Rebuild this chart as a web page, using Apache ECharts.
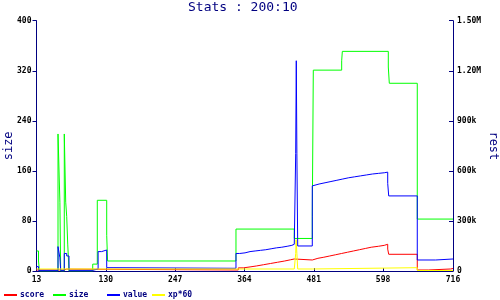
<!DOCTYPE html>
<html><head><meta charset="utf-8">
<script src="https://cdn.jsdelivr.net/npm/echarts@6/dist/echarts.min.js"></script>
<style>html,body{margin:0;padding:0;background:#fff}#c{width:500px;height:300px}</style>
</head><body><div id="c"></div>
<script>
const titleText = 'Stats : 200:10';
const seriesNames = ['score', 'size', 'value', 'xp*60'];
const xTicks = [13, 130, 247, 364, 481, 598, 716];
const leftTicks = [0, 80, 160, 240, 320, 400];
const rightTickLabels = ['0', '300k', '600k', '900k', '1.20M', '1.50M'];

const score = [[13,1.6],[49.3,3],[52.5,1.6],[59.9,3],[64,1.6],[353.6,5],[362,6.5],[373.4,8],[384,10],[396,12],[408,14],[420,16],[432,18],[442,19.2],[448.1,17.6],[478.5,20.3],[488,22],[498,24],[508,26],[518,28],[528,30],[538,32],[548,34],[558,36],[568,38],[578,39.5],[590,41],[600,42.7],[605.8,35],[607.5,26.7],[655.7,1.6],[674.3,3.2],[712,4],[716,4]];
const size = [[13,32],[16.4,16],[18,0],[49.3,219],[52.5,110],[53.8,0],[59.9,219],[62.3,110],[64,87],[65.7,43],[67.9,0],[107.9,11],[115.6,113],[131.5,57],[133,16],[349.7,67],[448.1,52],[478.5,87],[480.2,321],[528.1,336],[529.2,351],[606.8,326],[608.5,300],[655.7,83],[716,83]];
const value = [[13,7],[16.4,1],[49.3,39],[52.5,21],[53.8,1],[59.9,28],[64,24],[67.9,1],[107.9,3.2],[117,31],[123,33.6],[131.5,5.3],[143.8,4.3],[349.7,28],[356,29],[365,31],[373.4,32],[382,33],[391,34],[400,35.5],[409,37],[418,38],[427,39.5],[436,41],[444,42.7],[448.1,40],[450.5,188],[451.5,336],[452.5,188],[453.9,40],[478.5,136],[481,139],[490,141],[500,143],[510,145],[520,147],[530,149],[540,150.5],[550,152],[560,153.5],[570,155],[580,156],[590,157],[600,158],[605.8,140],[607.5,120],[655.7,17.6],[686.7,19.2],[716,19.2]];
const xp60 = [[13,3.2],[448.1,3.2],[450.5,28],[451.2,50],[452.5,28],[453.9,3.2],[478.5,5.3],[655.7,0.8],[716,0.8]];

const seriesData = [score, size, value, xp60];
const colors = ['#ff0000', '#00ff00', '#0000ff', '#ffff00'];
const legendLeft = [4, 53, 107, 152];

const navy = '#000080';
const mono = 'DejaVu Sans Mono';
const chart = echarts.init(document.getElementById('c'), null, {renderer: 'canvas'});
chart.setOption({
  animation: false,
  backgroundColor: '#ffffff',
  title: {text: titleText, left: 188, top: 1, padding: 0, textStyle: {color: navy, fontFamily: mono, fontSize: 13, fontWeight: 'normal'}},
  legend: seriesNames.map((n, i) => ({
    data: [n], left: legendLeft[i], top: 291, padding: 0,
    icon: 'rect', itemWidth: 13, itemHeight: 2, itemGap: 0,
    textStyle: {color: navy, fontFamily: mono, fontSize: 8, fontWeight: 'bold', padding: [0, 0, 0, -2]}
  })),
  grid: {left: 36.5, right: 47, top: 20.7, bottom: 29, containLabel: false, outerBoundsMode: 'none'},
  xAxis: {
    type: 'value', min: 13, max: 716,
    axisLine: {lineStyle: {color: navy, width: 1}},
    axisTick: {inside: true, length: 3, customValues: xTicks, lineStyle: {color: navy}},
    axisLabel: {customValues: xTicks, margin: 5, color: '#000', fontFamily: mono, fontSize: 8, fontWeight: 'bold'},
    splitLine: {show: false}
  },
  yAxis: [{
    type: 'value', min: 0, max: 400, interval: 80, position: 'left',
    name: 'size', nameLocation: 'middle', nameGap: 22, nameMoveOverlap: false,
    nameTextStyle: {color: navy, fontFamily: mono, fontSize: 12},
    axisLine: {show: true, lineStyle: {color: navy, width: 1}},
    axisTick: {show: true, length: 4, lineStyle: {color: navy}},
    axisLabel: {margin: 5, color: '#000', fontFamily: mono, fontSize: 8, fontWeight: 'bold',
      formatter: v => String(leftTicks[Math.round(v / 80)])},
    splitLine: {show: false}
  }, {
    type: 'value', min: 0, max: 1500000, interval: 300000, position: 'right',
    name: 'rest', nameLocation: 'middle', nameGap: 34, nameRotate: -90, nameMoveOverlap: false,
    nameTextStyle: {color: navy, fontFamily: mono, fontSize: 12},
    axisLine: {show: true, lineStyle: {color: navy, width: 1}},
    axisTick: {show: true, inside: true, length: 4, lineStyle: {color: navy}},
    axisLabel: {margin: 4, color: '#000', fontFamily: mono, fontSize: 8, fontWeight: 'bold',
      formatter: v => rightTickLabels[Math.round(v / 300000)]},
    splitLine: {show: false}
  }],
  series: seriesNames.map((n, i) => ({
    name: n, type: 'line', step: 'end', yAxisIndex: 0,
    data: seriesData[i], showSymbol: false, symbol: 'none',
    color: colors[i], lineStyle: {color: colors[i], width: 1}
  }))
});
</script></body></html>
